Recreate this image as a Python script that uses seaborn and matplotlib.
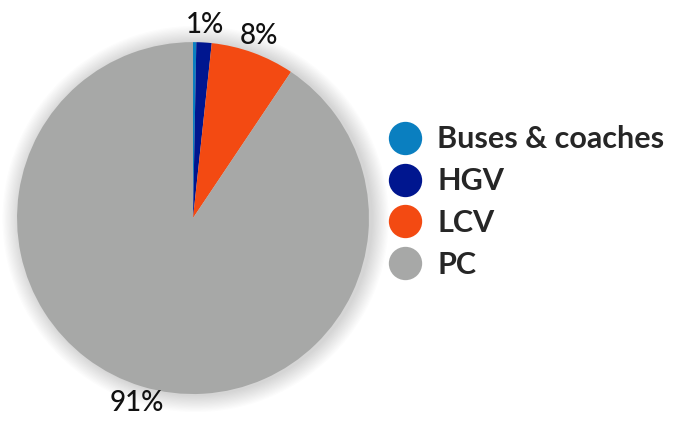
import matplotlib
matplotlib.use("Agg")
import matplotlib.pyplot as plt
import seaborn as sns
from matplotlib.lines import Line2D
from matplotlib.patches import Circle

sns.set_theme(style="white")
plt.rcParams["font.family"] = ["Lato", "DejaVu Sans"]

# ---------- Data ----------
categories = ["Buses & coaches", "HGV", "LCV", "PC"]
shares = [0.3, 1.4, 7.7, 90.6]
pct_labels = ["", "1%", "8%", "91%"]
colors = ["#0A7FC0", "#00168F", "#F34A12", "#A7A8A7"]

fig = plt.figure(figsize=(6.82, 4.21), dpi=100)
ax = fig.add_axes([0.025, 0.064, 0.516, 0.836])

# soft shadow behind the pie
for i in range(14):
    ax.add_patch(Circle((0.015, -0.005), 1.0 + 0.007 * (14 - i), color="black",
                        alpha=0.012, lw=0, zorder=0, clip_on=False))

wedges, texts = ax.pie(
    shares, colors=colors, labels=pct_labels, startangle=90, counterclock=False,
    labeldistance=1.1, wedgeprops=dict(linewidth=0),
    textprops=dict(fontsize=20, color="#111111", weight="medium"),
)
for t in texts:
    t.set_ha("center")
    t.set_va("center")
    t.set_clip_on(False)
for w in wedges:
    w.set_clip_on(False)
ax.set_xlim(-1.0, 1.0)
ax.set_ylim(-1.0, 1.0)
ax.set_aspect("equal")
ax.axis("off")

handles = [Line2D([0], [0], marker="o", linestyle="", markersize=24,
                  markerfacecolor=c, markeredgewidth=0) for c in colors]
fig.legend(handles, categories, loc="center left", bbox_to_anchor=(0.527, 0.52),
           frameon=False, prop=dict(size=22, weight="bold"),
           handletextpad=0.45, labelspacing=0.45, handlelength=1.2)

fig.savefig("out.png", dpi=100)
